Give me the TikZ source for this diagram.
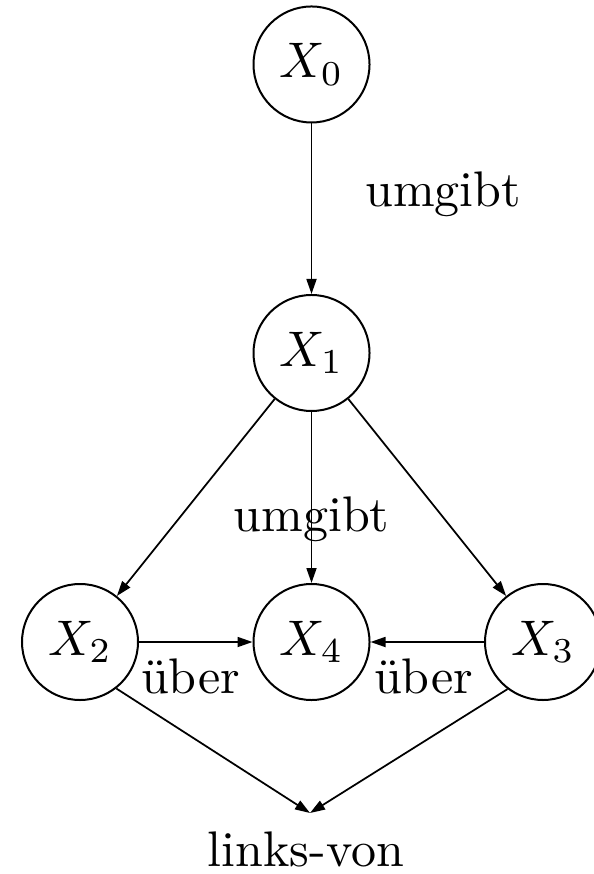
\documentclass[tikz,border=0pt]{standalone}
\usetikzlibrary{arrows.meta}
\begin{document}
\begin{tikzpicture}[x=0.2pt,y=-0.2pt,
  state/.style={draw,circle,line width=0.4pt,minimum size=23.2pt,inner sep=0pt},
  conn/.style={line width=0.35pt,-{Triangle[length=3pt,width=2pt]}},
  lbl/.style={anchor=base,inner sep=0pt}]
\useasboundingbox (0,0) rectangle (593,874);
\node[state] (x0) at (311.5,64.5) {$X_0$};
\node[state] (x1) at (311.5,353) {$X_1$};
\node[state] (x2) at (80,642) {$X_2$};
\node[state] (x4) at (311.5,642) {$X_4$};
\node[state] (x3) at (543,642) {$X_3$};
\coordinate (lv) at (310,813);
\node[lbl] (l1) at (443,207) {umgibt};
\node[lbl] (l2) at (311.5,531.5) {umgibt};
\node[lbl] (l3) at (190.5,693) {über};
\node[lbl] (l4) at (423.5,693) {über};
\node[lbl] (l5) at (306,866) {links-von};
\draw[conn] (x0) -- (x1);
\draw[conn] (x1) -- (x2);
\draw[conn] (x1) -- (x4);
\draw[conn] (x1) -- (x3);
\draw[conn] (x2) -- (x4);
\draw[conn] (x3) -- (x4);
\draw[conn] (x2.-52) -- (lv);
\draw[conn] (x3.-127) -- (lv);
\end{tikzpicture}
\end{document}
